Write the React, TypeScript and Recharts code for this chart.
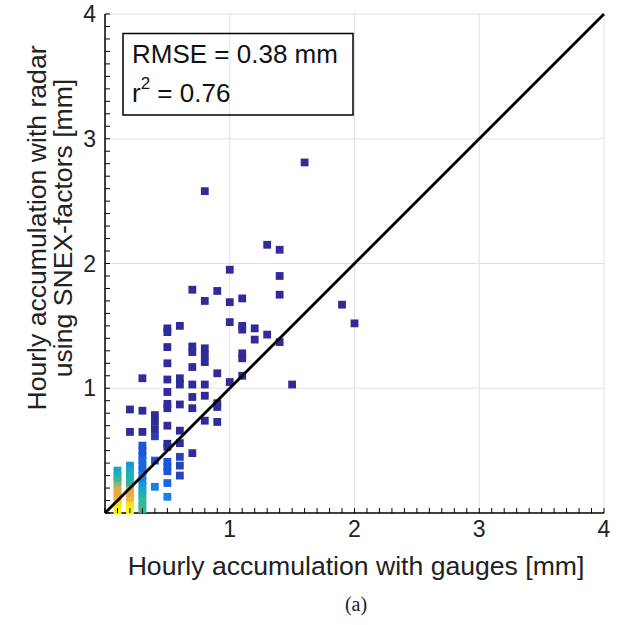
import React from "react";
import { ScatterChart, Scatter, XAxis, YAxis, CartesianGrid } from "recharts";

// [gauge, radar] bins holding a single hour (darkest colour)
const upperCells = [
  [0.8, 2.58], [1.6, 2.81], [1.3, 2.15], [1.4, 2.11], [1.0, 1.95], [1.4, 1.9],
  [1.4, 1.75], [0.7, 1.79], [0.9, 1.78], [0.8, 1.7], [1.0, 1.69], [1.1, 1.72],
  [1.9, 1.67], [2.0, 1.52], [1.0, 1.53], [1.1, 1.5], [1.1, 1.47], [1.2, 1.48],
  [1.2, 1.39], [1.3, 1.43], [1.4, 1.37], [0.5, 1.48], [0.5, 1.45], [0.6, 1.5],
  [0.5, 1.33], [0.7, 1.335], [0.7, 1.29], [0.8, 1.32], [0.8, 1.265], [0.8, 1.21],
  [1.1, 1.28], [1.1, 1.24], [0.5, 1.2], [0.7, 1.17], [0.9, 1.12], [1.1, 1.1],
  [1.0, 1.05], [1.5, 1.03], [0.3, 1.08], [0.5, 1.07], [0.6, 1.08], [0.6, 1.03],
  [0.7, 1.03], [0.8, 1.03],
];

const middleCells = [
  [0.5, 0.97], [0.7, 0.93], [0.8, 0.94], [0.5, 0.875], [0.5, 0.84], [0.6, 0.87],
  [0.7, 0.84], [0.9, 0.88], [0.9, 0.85], [0.2, 0.83], [0.3, 0.82], [0.8, 0.74],
  [0.9, 0.73], [0.4, 0.785], [0.4, 0.73], [0.4, 0.67], [0.5, 0.7], [0.6, 0.66],
  [0.2, 0.65], [0.3, 0.65], [0.5, 0.555], [0.5, 0.53], [0.6, 0.56], [0.7, 0.48],
];

// [gauge, radar, density level]
const lowCells = [
  [0.4, 0.615, 1], [0.6, 0.45, 1], [0.6, 0.38, 1], [0.6, 0.3, 1],
  [0.4, 0.42, 2], [0.4, 0.21, 4], [0.5, 0.41, 2], [0.5, 0.37, 2],
  [0.5, 0.335, 2], [0.5, 0.24, 3], [0.5, 0.13, 4],
];

// [radar, density level] for the crowded gauge bins
const gauge01 = [
  [0.34, 6], [0.3, 7], [0.26, 8], [0.22, 9], [0.18, 10], [0.14, 10],
  [0.1, 11], [0.06, 12], [0.02, 13],
];
const gauge02 = [
  [0.38, 5], [0.34, 6], [0.3, 7], [0.26, 7], [0.22, 8], [0.18, 10],
  [0.14, 10], [0.1, 11], [0.06, 12], [0.02, 13],
];
const gauge03 = [
  [0.54, 2], [0.5, 2], [0.46, 2], [0.42, 3], [0.38, 3], [0.34, 3], [0.3, 4],
  [0.26, 4], [0.22, 5], [0.18, 6], [0.14, 7], [0.1, 8], [0.06, 8], [0.03, 8],
];

const majorTicks = [1, 2, 3, 4];
const allTicks = Array.from({ length: 41 }, (_, i) => i / 10);
const identityLine = [
  { x: 0, y: 0 },
  { x: 4, y: 4 },
];

// parula-like colormap, index = density level
const parula = [
  "#2f2b98", "#2842b8", "#1d55d8", "#1a66e0", "#1a7ee4", "#1598d8", "#16a6d0",
  "#1eb2b2", "#36b896", "#86b96c", "#e6aa42", "#f5b63a", "#f5e21e", "#f8f510",
];

const cells = [
  ...upperCells.map(([x, y]) => ({ x, y, level: 0 })),
  ...middleCells.map(([x, y]) => ({ x, y, level: 0 })),
  ...lowCells.map(([x, y, level]) => ({ x, y, level })),
  ...gauge01.map(([y, level]) => ({ x: 0.1, y, level })),
  ...gauge02.map(([y, level]) => ({ x: 0.2, y, level })),
  ...gauge03.map(([y, level]) => ({ x: 0.3, y, level })),
];

const FONT = "'Liberation Sans', Arial, Helvetica, sans-serif";

const CellSquare = (props: any) => {
  const { cx, cy, payload } = props;
  const s = 7.8;
  return (
    <rect
      x={cx - s / 2}
      y={cy - s / 2}
      width={s}
      height={s}
      fill={parula[payload.level]}
    />
  );
};

const isMajor = (v: number) => majorTicks.some((m) => Math.abs(m - v) < 1e-6);

const XTick = ({ x, y, payload }: any) => {
  const v = payload.value;
  return (
    <g>
      <line x1={x} x2={x} y1={y} y2={y - 5} stroke="#000" strokeWidth={1} />
      {isMajor(v) && (
        <text x={x} y={y + 24} textAnchor="middle" fontSize={23} fill="#222" fontFamily={FONT}>
          {v}
        </text>
      )}
    </g>
  );
};

const YTick = ({ x, y, payload }: any) => {
  const v = payload.value;
  return (
    <g>
      <line x1={x} x2={x + 5} y1={y} y2={y} stroke="#000" strokeWidth={1} />
      {isMajor(v) && (
        <text x={x - 9} y={y + 8} textAnchor="end" fontSize={23} fill="#222" fontFamily={FONT}>
          {v}
        </text>
      )}
    </g>
  );
};

export default function App() {
  return (
    <div style={{ position: "absolute", left: 0, top: 0, width: 619, height: 625, background: "#fff" }}>
      <ScatterChart
        width={619}
        height={625}
        margin={{ top: 14, right: 15, bottom: 82, left: 0 }}
      >
        <CartesianGrid
          stroke="#e0e0e0"
          horizontalValues={majorTicks}
          verticalValues={majorTicks}
        />
        <XAxis
          type="number"
          dataKey="x"
          domain={[0, 4]}
          ticks={allTicks}
          interval={0}
          height={30}
          tickSize={0}
          tickMargin={0}
          tickLine={false}
          axisLine={{ stroke: "#000", strokeWidth: 1.5 }}
          tick={<XTick />}
        />
        <YAxis
          type="number"
          dataKey="y"
          domain={[0, 4]}
          ticks={allTicks}
          interval={0}
          width={105}
          tickSize={0}
          tickMargin={0}
          tickLine={false}
          axisLine={{ stroke: "#000", strokeWidth: 1.5 }}
          tick={<YTick />}
        />
        <Scatter data={cells} shape={<CellSquare />} isAnimationActive={false} />
        <Scatter
          data={identityLine}
          line={{ stroke: "#000", strokeWidth: 2.8 }}
          shape={() => <g />}
          isAnimationActive={false}
        />
      </ScatterChart>
      <svg
        width={619}
        height={625}
        style={{ position: "absolute", left: 0, top: 0, pointerEvents: "none" }}
      >
        <rect x={123} y={33.5} width={230} height={81.5} fill="none" stroke="#000" strokeWidth={1.5} />
        <text x={132} y={63} fontSize={26} fontFamily={FONT} fill="#111">
          RMSE = 0.38 mm
        </text>
        <text x={132} y={102} fontSize={26} fontFamily={FONT} fill="#111">
          r
          <tspan fontSize={17} dy={-13}>
            2
          </tspan>
          <tspan dy={13}> = 0.76</tspan>
        </text>
        <text x={356} y={575} textAnchor="middle" fontSize={26.6} fontFamily={FONT} fill="#222">
          Hourly accumulation with gauges [mm]
        </text>
        <text transform="translate(46,228) rotate(-90)" textAnchor="middle" fontSize={26.6} fontFamily={FONT} fill="#222">
          Hourly accumulation with radar
        </text>
        <text transform="translate(72,228) rotate(-90)" textAnchor="middle" fontSize={26.6} fontFamily={FONT} fill="#222">
          using SNEX-factors [mm]
        </text>
        <text
          x={356}
          y={611}
          textAnchor="middle"
          fontSize={20}
          fontFamily="'Liberation Serif', 'Times New Roman', serif"
          fill="#222"
        >
          (a)
        </text>
      </svg>
    </div>
  );
}
